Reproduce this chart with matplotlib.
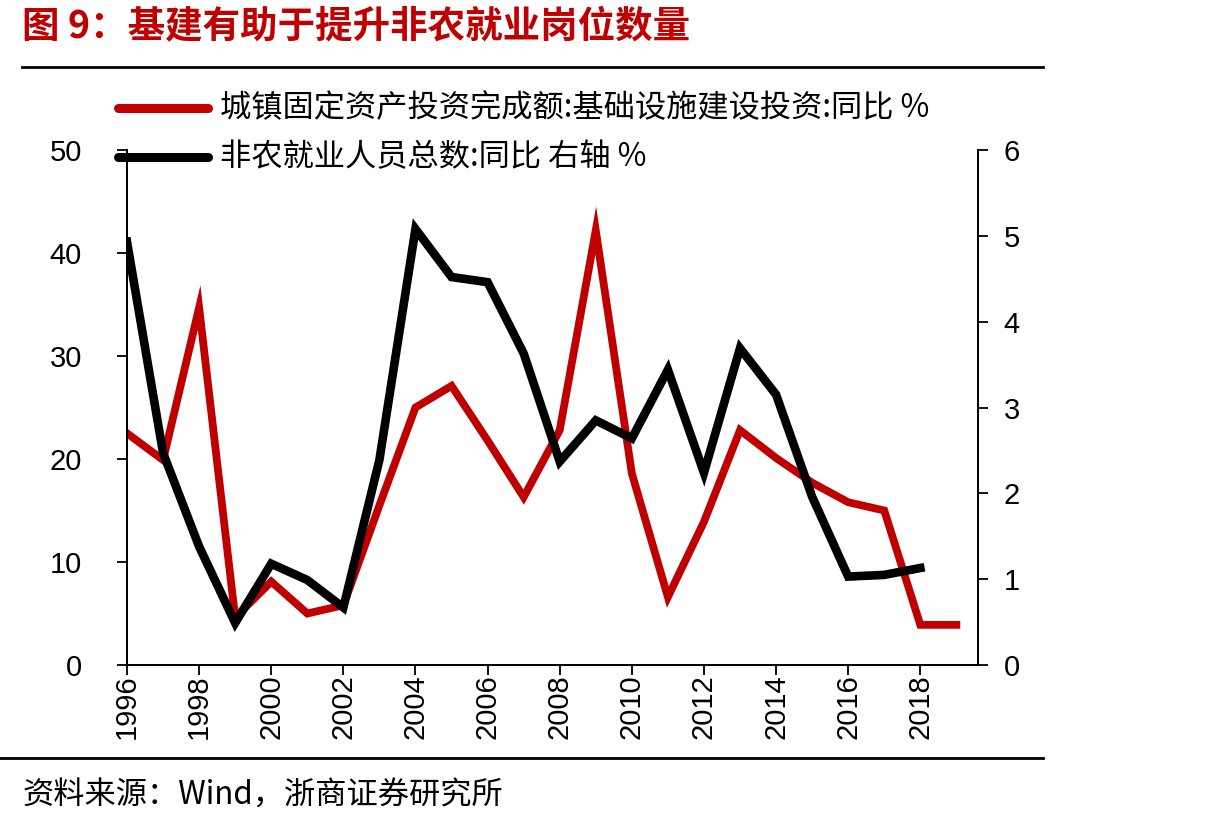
import numpy as np
import matplotlib
matplotlib.use("Agg")
import matplotlib.pyplot as plt
from matplotlib.lines import Line2D

plt.rcParams['font.family'] = ['Noto Sans CJK SC', 'DejaVu Sans']

# data
years_infra = list(range(1996, 2020))
infra_yoy = [22.5, 19.9, 34.7, 4.6, 8.1, 5.0, 5.8, 15.5, 25.0, 27.1, 21.8, 16.3,
             22.8, 42.2, 18.6, 6.6, 13.9, 22.8, 20.1, 17.7, 15.8, 15.0, 3.9, 3.9]
years_emp = list(range(1996, 2019))
emp_yoy = [4.93, 2.47, 1.38, 0.49, 1.18, 0.99, 0.67, 2.39, 5.08, 4.52, 4.46, 3.63,
           2.37, 2.85, 2.64, 3.44, 2.24, 3.69, 3.15, 1.96, 1.03, 1.05, 1.13]
xticks = list(range(1996, 2019, 2))

title = "图 9：基建有助于提升非农就业岗位数量"
label_infra = "城镇固定资产投资完成额:基础设施建设投资:同比 %"
label_emp = "非农就业人员总数:同比 右轴 %"
source = "资料来源：Wind，浙商证券研究所"

red = "#C00000"
tick_font = ['Liberation Sans', 'DejaVu Sans']
W, H = 1223, 827

def fx(px):
    return px / W

def fy(py):
    return 1 - py / H

fig = plt.figure(figsize=(W / 100, H / 100), dpi=100)
ax = fig.add_axes([fx(127), fy(665), (978 - 127) / W, (665 - 150) / H])
ax2 = ax.twinx()

ax.plot(years_infra, infra_yoy, color=red, lw=5.6, solid_joinstyle='miter', zorder=2)
ax2.plot(years_emp, emp_yoy, color='black', lw=6.2, solid_joinstyle='miter', zorder=3)

ax.set_xlim(1996, 2019.6)
ax.set_ylim(0, 50)
ax2.set_ylim(0, 6)
ax.set_yticks(range(0, 51, 10))
ax2.set_yticks(range(0, 7))
ax.set_xticks(xticks)
ax.set_xticklabels([str(y) for y in xticks], rotation=90, fontsize=21, family=tick_font)
for lab in ax.get_yticklabels() + ax2.get_yticklabels():
    lab.set_fontsize(21)
    lab.set_family(tick_font)

for a in (ax, ax2):
    for s in a.spines.values():
        s.set_linewidth(1.3)
    a.spines['top'].set_visible(False)
ax.tick_params(axis='x', direction='out', length=7.5, width=1.3, pad=-1)
ax.tick_params(axis='y', direction='out', length=7.5, width=1.3, pad=25)
ax2.tick_params(axis='y', direction='out', length=7.5, width=1.3, pad=11)
ax2.set_zorder(ax.get_zorder() + 1)

# legend drawn by hand above the plot area
for py, col, txt in [(108, red, label_infra), (157, 'black', label_emp)]:
    fig.add_artist(Line2D([fx(118), fx(208)], [fy(py), fy(py)], color=col, lw=6.5,
                          solid_capstyle='round', zorder=5))
    fig.text(fx(220), fy(py), txt, fontsize=22.5, va='center', ha='left', zorder=5)

fig.text(fx(22), fy(26), title, color=red, fontsize=27, fontweight='bold',
         va='center', ha='left')
fig.add_artist(Line2D([fx(22), fx(1043)], [fy(67), fy(67)], color='black', lw=2))
fig.add_artist(Line2D([0, fx(1043)], [fy(758), fy(758)], color='black', lw=2))
fig.text(fx(22), fy(796), source, fontsize=22.5, va='center', ha='left')

fig.savefig("out.png", dpi=100)
